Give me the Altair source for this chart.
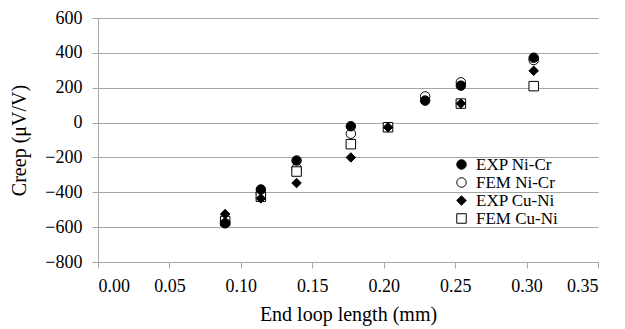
import altair as alt
import pandas as pd

x_vals = [0.089, 0.114, 0.139, 0.177, 0.203, 0.229, 0.254, 0.305]
exp_nicr = [-578, -384, -218, -21, None, 126, 212, 372]
fem_nicr = [-570, -405, -262, -64, None, 150, 231, 359]
exp_cuni = [-525, -435, -347, -200, -27, None, 109, 297]
fem_cuni = [-565, -425, -281, -124, -27, None, 109, 209]

series_names = ["EXP Ni-Cr", "FEM Ni-Cr", "EXP Cu-Ni", "FEM Cu-Ni"]
series_vals = {"EXP Ni-Cr": exp_nicr, "FEM Ni-Cr": fem_nicr,
               "EXP Cu-Ni": exp_cuni, "FEM Cu-Ni": fem_cuni}
draw_order = ["FEM Ni-Cr", "FEM Cu-Ni", "EXP Cu-Ni", "EXP Ni-Cr"]

rows = []
for s in draw_order:
    for xv, yv in zip(x_vals, series_vals[s]):
        if yv is not None:
            rows.append({"x": xv, "y": yv, "series": s})
df = pd.DataFrame(rows)

font = "Liberation Serif, Times New Roman, serif"

legend = alt.Legend(title=None, orient="none", legendX=355, legendY=138,
                    labelFont=font, labelFontSize=17, labelColor="black",
                    symbolSize=90, symbolStrokeWidth=1, rowPadding=0,
                    padding=0, labelOffset=6)

chart = alt.Chart(df).mark_point(opacity=1, strokeWidth=1, size=90).encode(
    x=alt.X("x:Q", title="End loop length (mm)",
            scale=alt.Scale(domain=[0, 0.35], nice=False),
            axis=alt.Axis(values=[0, 0.05, 0.1, 0.15, 0.2, 0.25, 0.3, 0.35], format=".2f",
                          grid=False, domainColor="#a6a6a6", tickColor="#a6a6a6",
                          tickSize=6, labelPadding=9, titlePadding=9)),
    y=alt.Y("y:Q", title="Creep (μV/V)",
            scale=alt.Scale(domain=[-800, 600], nice=False),
            axis=alt.Axis(values=list(range(-800, 601, 200)),
                          gridColor="#a6a6a6", domainColor="#a6a6a6", tickColor="#a6a6a6",
                          tickSize=6, labelPadding=10, titlePadding=15)),
    shape=alt.Shape("series:N", scale=alt.Scale(domain=series_names,
                    range=["circle", "circle", "diamond", "square"]), legend=legend),
    fill=alt.Fill("series:N", scale=alt.Scale(domain=series_names,
                  range=["black", "white", "black", "white"]), legend=legend),
    stroke=alt.value("black"),
).properties(
    width=500, height=244,
    autosize=alt.AutoSizeParams(type="none"),
    padding={"left": 90, "top": 10, "right": 19, "bottom": 67},
).configure_axis(
    labelFont=font, titleFont=font, labelFontSize=18, titleFontSize=20,
    labelColor="black", titleColor="black", titleFontWeight="normal",
).configure_view(stroke=None)

chart.save("out.html", embed_options={"renderer": "svg", "actions": False})
